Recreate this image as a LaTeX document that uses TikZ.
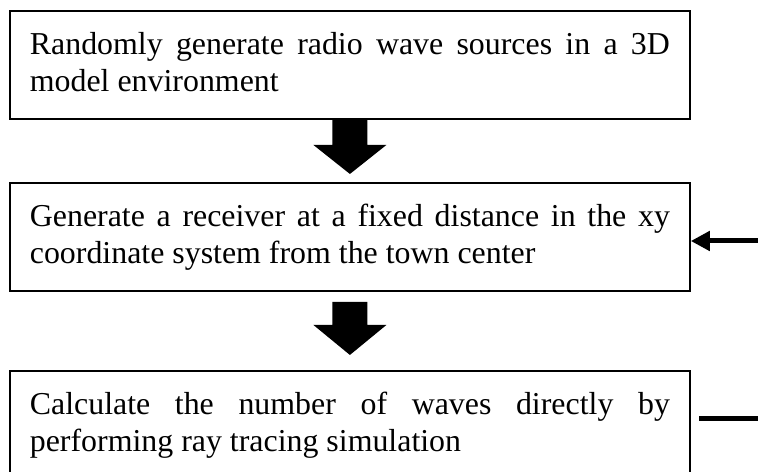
\documentclass[tikz,border=0pt]{standalone}
\usepackage{fontspec}
\setmainfont{Liberation Serif}
\usetikzlibrary{calc,arrows.meta}
\newcommand\lnstrut{\rule[-9.5bp]{0pt}{35bp}}
\tikzset{
  stepbox/.style={draw, line width=1.8bp, anchor=north west, text width=640bp,
    align=justify, inner xsep=20bp, inner ysep=18.5bp,
    font=\fontsize{32pt}{36.3pt}\selectfont},
  blockarrow/.style={fill=black, draw=none},
  sidearrow/.style={line width=5bp, -{Triangle[length=19bp,width=19bp]}},
  sideline/.style={line width=5bp}
}
\begin{document}
\begin{tikzpicture}[x=1bp,y=-1bp]
\useasboundingbox (0,0) rectangle (758,472);
\clip (0,0) rectangle (758,472);
\node[stepbox] (b1) at (9,10) {\lnstrut Randomly generate radio wave sources in a 3D\linebreak\lnstrut model environment};
\node[stepbox] (b2) at (9,182) {\lnstrut Generate a receiver at a fixed distance in the xy\linebreak\lnstrut coordinate system from the town center};
\node[stepbox] (b3) at (9,370) {\lnstrut Calculate the number of waves directly by\linebreak\lnstrut performing ray tracing simulation};
% block arrow 1
\fill[blockarrow] ($(b1.south)+(-17.5,0)$) -- ($(b1.south)+(17.5,0)$) -- ($(b1.south)+(17.5,25)$)
  -- ($(b1.south)+(36.5,25)$) -- ($(b1.south)+(0,54)$) -- ($(b1.south)+(-36.5,25)$)
  -- ($(b1.south)+(-17.5,25)$) -- cycle;
% block arrow 2
\fill[blockarrow] ($(b2.south)+(-17.5,10)$) -- ($(b2.south)+(17.5,10)$) -- ($(b2.south)+(17.5,33)$)
  -- ($(b2.south)+(36.5,33)$) -- ($(b2.south)+(0,63)$) -- ($(b2.south)+(-36.5,33)$)
  -- ($(b2.south)+(-17.5,33)$) -- cycle;
% side connectors
\coordinate (in2) at (775,241);
\coordinate (out3a) at (699,418);
\coordinate (out3b) at (775,418);
\draw[sidearrow] (in2) -- (b2.east |- in2);
\draw[sideline] (out3a) -- (out3b);
\end{tikzpicture}
\end{document}
